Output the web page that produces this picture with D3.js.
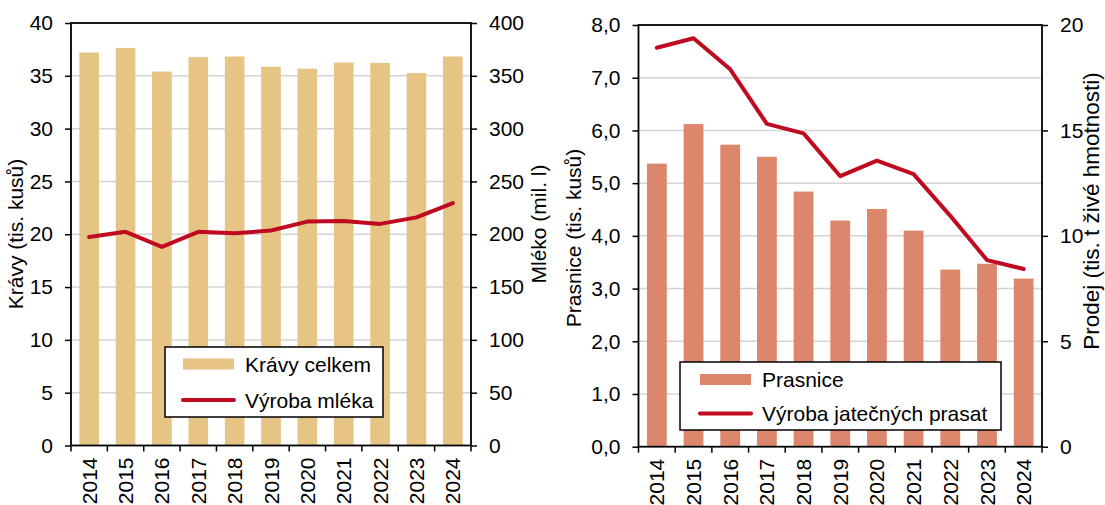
<!DOCTYPE html>
<html><head><meta charset="utf-8">
<script src="https://cdn.jsdelivr.net/npm/d3@7"></script>
<style>
body{margin:0;background:#fff}
svg{display:block}
text{font-family:"Liberation Sans",Arial,sans-serif;fill:#000}
</style>
</head><body>
<svg id="c" width="1105" height="505"></svg>
<script>
// ---- data ----
const years = ["2014","2015","2016","2017","2018","2019","2020","2021","2022","2023","2024"];
const kravy = [37.2, 37.64, 35.4, 36.77, 36.83, 35.86, 35.67, 36.26, 36.23, 35.26, 36.83];
const mleko = [197.3, 202.3, 188.0, 202.3, 201.0, 203.5, 212.0, 212.6, 209.8, 216.0, 229.5];
const prasnice = [5.37, 6.12, 5.73, 5.50, 4.84, 4.29, 4.51, 4.10, 3.36, 3.47, 3.19];
const prodej = [18.92, 19.37, 17.90, 15.31, 14.86, 12.83, 13.57, 12.93, 10.95, 8.85, 8.43];
const kravyTicks = [0,5,10,15,20,25,30,35,40];
const mlekoTicks = [0,50,100,150,200,250,300,350,400];
const prasniceTicks = [0,1,2,3,4,5,6,7,8];
const prodejTicks = [0,5,10,15,20];
const legendLeft = ["Krávy celkem", "Výroba mléka"];
const legendRight = ["Prasnice", "Výroba jatečných prasat"];
const titles = ["Krávy (tis. kusů)", "Mléko (mil. l)", "Prasnice (tis. kusů)", "Prodej (tis. t živé hmotnosti)"];

const svg = d3.select("#c");
const FS = 21;
const LINE_COL = "#C00A1F";

function panel(o){
  const g = svg.append("g");
  const x = d3.scaleBand().domain(years).range([o.left, o.right]).paddingInner(0.46).paddingOuter(0.23);
  const y = d3.scaleLinear().domain([0, o.yMax]).range([o.bottom, o.top]);
  const y2 = d3.scaleLinear().domain([0, o.y2Max]).range([o.bottom, o.top]);

  // gridlines
  g.append("g").selectAll("line").data(o.yTicks.filter(t => t > 0 && t < o.yMax)).join("line")
    .attr("x1", o.left).attr("x2", o.right)
    .attr("y1", d => y(d)).attr("y2", d => y(d))
    .attr("stroke", "#d4d4d4").attr("stroke-width", 1.5);

  // bars
  g.append("g").selectAll("rect").data(o.bars).join("rect")
    .attr("x", (d,i) => x(years[i])).attr("width", x.bandwidth())
    .attr("y", d => y(d)).attr("height", d => o.bottom - y(d))
    .attr("fill", o.barCol);

  // line
  const line = d3.line().x((d,i) => x(years[i]) + x.bandwidth()/2).y(d => y2(d));
  g.append("path").datum(o.line).attr("d", line)
    .attr("fill", "none").attr("stroke", LINE_COL).attr("stroke-width", 4)
    .attr("stroke-linejoin", "round").attr("stroke-linecap", "round");

  // frame
  g.append("rect").attr("x", o.left).attr("y", o.top)
    .attr("width", o.right - o.left).attr("height", o.bottom - o.top)
    .attr("fill", "none").attr("stroke", "#000").attr("stroke-width", 1.8);

  // y axes
  const ax = d3.axisLeft(y).tickValues(o.yTicks).tickSize(6).tickPadding(12).tickFormat(o.fmt);
  const ga = g.append("g").attr("transform", `translate(${o.left},0)`).call(ax);
  const ax2 = d3.axisRight(y2).tickValues(o.y2Ticks).tickSize(6).tickPadding(12).tickFormat(d3.format("d"));
  const gb = g.append("g").attr("transform", `translate(${o.right},0)`).call(ax2);
  [ga, gb].forEach(a => {
    a.select(".domain").remove();
    a.selectAll(".tick line").attr("stroke", "#000").attr("stroke-width", 1.5);
    a.selectAll(".tick text").attr("font-size", FS).attr("font-family", "Liberation Sans, Arial, sans-serif").attr("fill", "#000");
  });

  // x axis ticks at band boundaries
  const step = x.step();
  const x0 = x(years[0]) - step * x.paddingInner() / 2;
  const bounds = d3.range(years.length + 1).map(i => x0 + i * step);
  g.append("g").selectAll("line").data(bounds).join("line")
    .attr("x1", d => d).attr("x2", d => d).attr("y1", o.bottom).attr("y2", o.bottom + 6)
    .attr("stroke", "#000").attr("stroke-width", 1.5);
  g.append("g").selectAll("text").data(years).join("text")
    .attr("transform", d => `translate(${x(d) + x.bandwidth()/2},${o.bottom + 12}) rotate(-90)`)
    .attr("text-anchor", "end").attr("dy", "0.36em").attr("font-size", FS).text(d => d);

  // axis titles
  o.titles.forEach(t => {
    g.append("text").attr("transform", `translate(${t.x},${t.y}) rotate(-90)`)
      .attr("text-anchor", "middle").attr("font-size", t.fs || FS).text(t.text);
  });

  // legend
  const L = o.legend;
  g.append("rect").attr("x", L.x).attr("y", L.y).attr("width", L.w).attr("height", L.h)
    .attr("fill", "#fff").attr("stroke", "#000").attr("stroke-width", 1.5);
  g.append("rect").attr("x", L.sx).attr("y", L.r1 - 5.5).attr("width", 51).attr("height", 11).attr("fill", o.barCol);
  g.append("line").attr("x1", L.sx).attr("x2", L.sx + 51).attr("y1", L.r2).attr("y2", L.r2)
    .attr("stroke", LINE_COL).attr("stroke-width", 4).attr("stroke-linecap", "round");
  g.append("text").attr("x", L.tx).attr("y", L.r1).attr("dy", "0.36em").attr("font-size", FS).text(L.labels[0]);
  g.append("text").attr("x", L.tx).attr("y", L.r2).attr("dy", "0.36em").attr("font-size", FS).text(L.labels[1]);
}

panel({
  left: 71, right: 471, top: 23, bottom: 445.5,
  yMax: 40, y2Max: 400, yTicks: kravyTicks, y2Ticks: mlekoTicks,
  fmt: d3.format("d"), bars: kravy, line: mleko, barCol: "#E5C484",
  titles: [{x: 23, y: 234, text: titles[0]}, {x: 546, y: 224, text: titles[1]}],
  legend: {x: 165, y: 347, w: 218, h: 70, sx: 183, tx: 245, r1: 364, r2: 400, labels: legendLeft}
});

panel({
  left: 638.5, right: 1042, top: 25, bottom: 446.7,
  yMax: 8, y2Max: 20, yTicks: prasniceTicks, y2Ticks: prodejTicks,
  fmt: d => d3.format(".1f")(d).replace(".", ","), bars: prasnice, line: prodej, barCol: "#DC866B",
  titles: [{x: 581, y: 238, text: titles[2]}, {x: 1099, y: 211, text: titles[3], fs: 22.5}],
  legend: {x: 680, y: 362, w: 321, h: 68, sx: 700, tx: 762, r1: 379.5, r2: 413.5, labels: legendRight}
});
</script>
</body></html>
